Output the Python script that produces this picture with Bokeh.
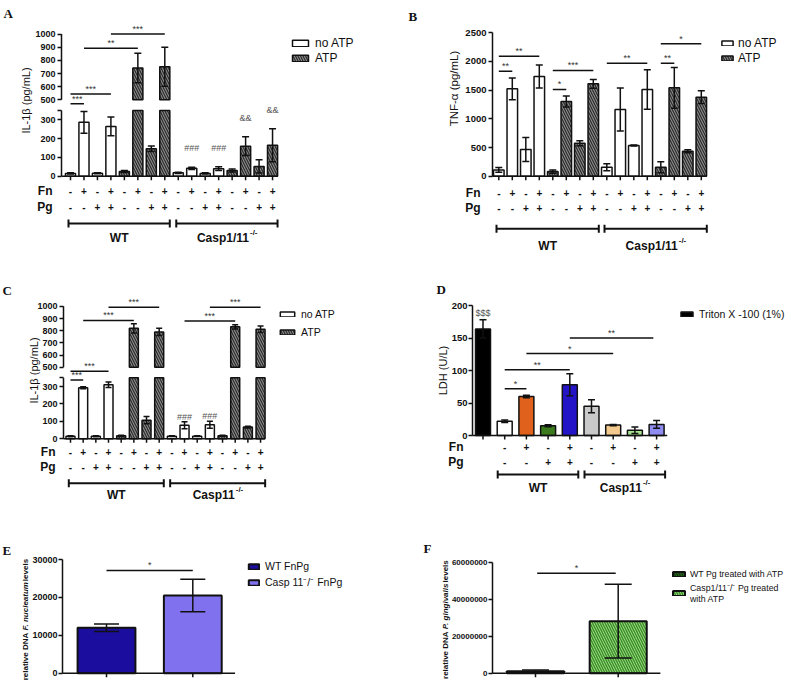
import numpy as np
from bokeh.plotting import figure
from bokeh.models import Range1d, FixedTicker, Legend, LegendItem, ColumnDataSource
from bokeh.layouts import row, column
from bokeh.embed import file_html
from bokeh.resources import INLINE
from bokeh.core.properties import value

FONT = "Liberation Sans"
SERIF = "Liberation Serif"
INK = "#111111"

# ------------------------------------------------------------------ DATA
fn_signs = ["-", "+", "-", "+"] * 4
pg_signs = ["-", "-", "+", "+"] * 4
atp_flag = [0, 0, 0, 0, 1, 1, 1, 1, 0, 0, 0, 0, 1, 1, 1, 1]
atp_legend = ["no ATP", "ATP"]

# Panel A  IL-1b, WT vs Casp1/11-/-
a_mean = [15, 287, 16, 265, 25, 742, 146, 752, 18, 42, 15, 40, 30, 160, 52, 165]
a_sem = [3, 58, 3, 50, 5, 112, 15, 148, 3, 6, 3, 10, 8, 50, 35, 88]
a_sig = [(0, 1, 445, "***"), (0, 3, 545, "***"), (1, 5, 892, "**"), (3, 7, 1000, "***")]
a_marks = [(9, "###"), (11, "###"), (13, "&&"), (15, "&&")]
a_groups = [("WT", "", 0, 7), ("Casp1/11", "-/-", 8, 15)]
a_ticks = [0, 100, 200, 300, 350, 500, 600, 700, 800, 900, 1000]
a_tick_labels = ["0", "100", "200", "300", "", "500", "600", "700", "800", "900", "1000"]

# Panel B  TNF-a
b_mean = [110, 1523, 465, 1738, 80, 1302, 575, 1610, 157, 1163, 535, 1511, 157, 1540, 436, 1378]
b_sem = [40, 190, 210, 200, 30, 95, 45, 75, 60, 375, 10, 345, 95, 355, 25, 110]
b_sig = [(0, 1, 1831, "**"), (0, 3, 2093, "**"), (4, 5, 1512, "*"), (4, 7, 1843, "***"),
         (8, 11, 1971, "**"), (12, 13, 1971, "**"), (12, 15, 2308, "*")]
b_groups = [("WT", "", 0, 7), ("Casp1/11", "-/-", 8, 15)]
b_ticks = [0, 500, 1000, 1500, 2000, 2500]

# Panel C  IL-1b, WT vs Casp11-/-
c_mean = [15, 293, 15, 310, 17, 820, 107, 790, 15, 78, 15, 81, 18, 832, 67, 812]
c_sem = [3, 6, 3, 16, 4, 38, 21, 30, 2, 20, 2, 20, 3, 17, 5, 27]
c_sig = [(0, 1, 338, "***"), (0, 3, 443, "***"), (1, 5, 884, "***"), (3, 7, 993, "***"),
         (9, 13, 880, "***"), (11, 15, 993, "***")]
c_marks = [(9, "###"), (11, "###")]
c_groups = [("WT", "", 0, 7), ("Casp11", "-/-", 8, 15)]

# Panel D  LDH
d_fn = ["", "-", "+", "-", "+", "-", "+", "-", "+"]
d_pg = ["", "-", "-", "+", "+", "-", "-", "+", "+"]
d_mean = [164, 22, 60, 15, 78, 45, 16, 8, 17]
d_sem = [14, 2, 2, 1.5, 17, 10, 1, 5, 6]
d_colors = ["#000000", "#ffffff", "#e0611c", "#3b7a1d", "#2414c8",
            "#c9c9c9", "#f3c98d", "#a9e591", "#8f8cf2"]
d_sig = [(1, 2, 72, "*"), (1, 4, 101, "**"), (2, 6, 126, "*"), (4, 7.85, 150, "**")]
d_marks = [(0, "$$$")]
d_groups = [("WT", "", 1, 4), ("Casp11", "-/-", 5, 8)]
d_legend = "Triton X -100 (1%)"
d_ticks = [0, 50, 100, 150, 200]

# Panel E  F. nucleatum DNA
e_names = ["WT FnPg", "Casp 11\u207b/\u207b FnPg"]
e_mean = [12000, 20500]
e_sem = [1000, 4300]
e_colors = ["#1b0d9e", "#8072ef"]
e_sig = [(0, 1, 27100, "*")]
e_ticks = [0, 10000, 20000, 30000]
e_ylabel = [("relative DNA ", False), ("F. nucleatum", True), (" levels", False)]

# Panel F  P. gingivalis DNA
f_names = ["WT Pg treated with ATP", "Casp1/11\u207b/\u207b Pg treated\nwith ATP"]
f_mean = [1000000, 28300000]
f_sem = [800000, 20000000]
f_colors = ["#2f6d20", "#a6e48b"]
f_hatch = ["#123a0a", "#3d8f2b"]
f_sig = [(0.02, 0.97, 54300000, "*")]
f_ticks = [0, 20000000, 40000000, 60000000]
f_ylabel = [("relative DNA ", False), ("P. gingivalis", True), (" levels", False)]

# ------------------------------------------------------------------ HELPERS
AW = {"C": .722, "a": .556, "s": .556, "p": .611, "1": .556, "/": .278, "-": .333,
      "W": .944, "T": .611, "r": .389, "e": .556, "l": .278, "t": .333, "i": .278,
      "v": .556, " ": .278, "D": .722, "N": .722, "A": .722, "F": .611, ".": .278,
      "n": .611, "u": .611, "c": .556, "m": .889, "P": .667, "g": .611}


def tw(s):
    return sum(AW.get(ch, .556) for ch in s)


def make_break(lo, hi, gap, k):
    def f(v):
        v = np.asarray(v, dtype=float)
        return np.where(v <= lo, v, np.where(v < hi, lo + (v - lo) / (hi - lo) * gap,
                                             lo + gap + (v - hi) * k))
    return f


def ident(v):
    return np.asarray(v, dtype=float)


def new_fig(fig, axis_abs, zero, py, x0, dx):
    fx, fy, fw, fh = fig
    xs, xe = (fx - x0) / dx, (fx + fw - x0) / dx
    ys, ye = -(fy + fh - zero) / py, (zero - fy) / py
    p = figure(width=fw, height=fh, x_range=Range1d(xs, xe), y_range=Range1d(ys, ye),
               x_axis_location=None, y_axis_location="left", toolbar_location=None,
               output_backend="svg", min_border=0, min_border_left=0, min_border_right=0,
               min_border_top=0, min_border_bottom=0, outline_line_color=None,
               border_fill_color="white", background_fill_color="white", title=None)
    p.grid.visible = False
    xa = (axis_abs - x0) / dx
    p.yaxis[0].fixed_location = xa
    g = dict(fig=fig, zero=zero, py=py, x0=x0, dx=dx, xa=xa,
             X=lambda ax: (ax - x0) / dx, Y=lambda ay: (zero - ay) / py)
    return p, g


def txt(p, x, y, s, fs, bold=False, align="center", baseline="middle", color=INK,
        font=FONT, angle=0.0, x_offset=0.0, y_offset=0.0, italic=False):
    style = "bold" if bold else "normal"
    if italic:
        style = "bold italic" if bold else "italic"
    p.text(x=list(np.atleast_1d(x)), y=list(np.atleast_1d(y)), text=list(np.atleast_1d(s)),
           text_align=align, text_baseline=baseline, text_font=value(font),
           text_font_style=style, text_font_size=fs, text_color=color, angle=angle,
           x_offset=x_offset, y_offset=y_offset)


def style_y(p, ticks, labels, bounds, tick_fs, show_line=True, tick_standoff=2, tick_out=4):
    ax = p.yaxis[0]
    ax.ticker = FixedTicker(ticks=list(ticks))
    ax.major_label_overrides = {k: v for k, v in zip(ticks, labels)}
    ax.bounds = bounds
    ax.major_label_text_font = FONT
    ax.major_label_text_font_style = "bold"
    ax.major_label_text_font_size = tick_fs
    ax.major_label_text_color = INK
    ax.major_label_standoff = tick_standoff
    ax.major_tick_out = tick_out
    ax.major_tick_in = 0
    ax.minor_tick_out = 0
    ax.minor_tick_in = 0
    ax.major_tick_line_width = 1.5
    ax.major_tick_line_color = INK
    ax.axis_line_width = 1.5
    ax.axis_line_color = INK if show_line else None


def add_ylabel(p, g, text, cx, cy, fs, bold=False):
    txt(p, g["X"](cx), g["Y"](cy), text, fs, bold=bold, angle=np.pi / 2)


def add_ylabel_parts(p, g, parts, cx, cy, fs_px, bold=True):
    widths = [tw(t) * fs_px for t, _ in parts]
    total = sum(widths)
    cum = 0.0
    for (t, it), w in zip(parts, widths):
        txt(p, g["X"](cx), g["Y"](cy), t, f"{fs_px}px", bold=bold, italic=it,
            align="left", angle=np.pi / 2, y_offset=total / 2 - cum)
        cum += w


def add_errors(p, g, idx, m, s, tf, cap_px, lw=1.5):
    lo = tf(m - s)
    hi = tf(m + s)
    cw = cap_px / 2 / g["dx"]
    p.segment(x0=idx, y0=lo, x1=idx, y1=hi, line_color=INK, line_width=lw)
    p.segment(x0=np.concatenate([idx - cw, idx - cw]), y0=np.concatenate([hi, lo]),
              x1=np.concatenate([idx + cw, idx + cw]), y1=np.concatenate([hi, lo]),
              line_color=INK, line_width=lw)


def add_sig(p, sig, tf, fs="9px"):
    x0s = [s[0] for s in sig]
    x1s = [s[1] for s in sig]
    ys = tf([s[2] for s in sig])
    p.segment(x0=x0s, y0=ys, x1=x1s, y1=ys, line_color=INK, line_width=1.5)
    txt(p, [(a + b) / 2 for a, b in zip(x0s, x1s)], ys, [s[3] for s in sig], fs,
        baseline="bottom", color="#333333")


def add_marks(p, marks, m, s, tf, off_px, fs="9px"):
    ii = [k for k, _ in marks]
    ys = tf(np.array(m)[ii] + np.array(s)[ii])
    txt(p, ii, ys, [t for _, t in marks], fs, baseline="bottom", color="#555555",
        y_offset=-off_px)


def add_xaxis(p, g, idx, axis_end):
    p.segment(x0=[g["xa"]], y0=[0], x1=[axis_end], y1=[0], line_color=INK, line_width=1.5)
    tick = 4 / g["py"]
    n = len(idx)
    p.segment(x0=idx, y0=np.zeros(n), x1=idx, y1=np.full(n, -tick), line_color=INK,
              line_width=1.5)


def add_rows(p, g, idx, fn, pg, rows_px, hdr_right):
    py = g["py"]
    yf, yp = -rows_px[0] / py, -rows_px[1] / py
    for signs, yy, name in ((fn, yf, "Fn"), (pg, yp, "Pg")):
        txt(p, idx, [yy] * len(idx), signs, "10px", bold=True)
        txt(p, g["X"](hdr_right), yy, name, "12px", bold=True, align="right")


def add_groups(p, g, groups, rows_px, pad, fs=12):
    py, dx = g["py"], g["dx"]
    yb, yl = -rows_px[2] / py, -rows_px[3] / py
    capy = 4 / py
    for main, sup, i0, i1 in groups:
        xa, xb = i0 - pad[0] / dx, i1 + pad[1] / dx
        p.segment(x0=[xa], y0=[yb], x1=[xb], y1=[yb], line_color=INK, line_width=2)
        p.segment(x0=[xa, xb], y0=[yb - capy] * 2, x1=[xa, xb], y1=[yb + capy] * 2,
                  line_color=INK, line_width=2)
        cx = (xa + xb) / 2
        sfs = fs * 0.65
        mw = tw(main) * fs
        sw = tw(sup) * sfs if sup else 0
        left = -(mw + sw) / 2
        txt(p, cx, yl, main, f"{fs}px", bold=True, align="left", x_offset=left)
        if sup:
            txt(p, cx, yl, sup, f"{sfs:.1f}px", bold=True, align="left",
                x_offset=left + mw + 0.5, y_offset=-fs * 0.42)


def add_letter(p, g, t, ax, ay):
    txt(p, g["X"](ax), g["Y"](ay), t, "13px", bold=True, align="left", baseline="top",
        font=SERIF)


def add_legend(p, g, items, box_left, top, gw, gh, fs, row_h, spacing=1, standoff=5,
               nrows=None):
    fx, fy, fw, fh = g["fig"]
    n = nrows if nrows else len(items)
    height = n * row_h + (len(items) - 1) * spacing
    leg = Legend(items=items, location=(box_left - fx, fy + fh - (top + height)),
                 glyph_width=gw, glyph_height=gh, label_height=row_h, label_width=10,
                 label_standoff=standoff, spacing=spacing, padding=0, margin=0,
                 border_line_color=None, background_fill_alpha=0, label_text_font=FONT,
                 label_text_font_size=f"{fs}px", label_text_color=INK)
    p.add_layout(leg)


WHITE_KW = dict(fill_color="white", line_color=INK, line_width=1.5)
ATP_KW = dict(fill_color="#8c8c8c", line_color=INK, line_width=1.5,
              hatch_pattern="left_diagonal_line", hatch_color="#2a2a2a",
              hatch_weight=1.2, hatch_scale=5)


def panel_atp(geo, mean, sem, tf, brk, ticks, tick_labels, top_val, ylab, sig, marks,
              mark_off, groups, rows_px, pad, axis_end, hdr_right, leg, letter,
              bw, cap_px, tick_fs):
    p, g = new_fig(*geo)
    m = np.array(mean, float)
    s = np.array(sem, float)
    idx = np.arange(len(m), dtype=float)
    atp = np.array(atp_flag) == 1
    lo_cap = brk[0] if brk else np.inf
    lower_top = tf(np.minimum(m, lo_cap))
    rends = []
    for flag, kw in ((False, WHITE_KW), (True, ATP_KW)):
        sel = atp == flag
        r = p.vbar(x=idx[sel], top=lower_top[sel], bottom=0, width=bw, **kw)
        rends.append(r)
        if brk:
            up = sel & (m > brk[1])
            if up.any():
                p.vbar(x=idx[up], top=tf(m[up]), bottom=float(tf(brk[1])), width=bw, **kw)
    add_errors(p, g, idx, m, s, tf, cap_px)
    add_sig(p, sig, tf)
    if marks:
        add_marks(p, marks, m, s, tf, mark_off)
    add_xaxis(p, g, idx, axis_end)
    tks = [int(round(float(tf(v)))) for v in ticks]
    style_y(p, tks, tick_labels, (0, tks[-1]), tick_fs, show_line=not brk)
    if brk:
        xl = g["xa"]
        p.segment(x0=[xl, xl], y0=[0, float(tf(brk[1]))], x1=[xl, xl],
                  y1=[float(tf(brk[0])), float(tf(top_val))], line_color=INK, line_width=1.5)
    add_rows(p, g, idx, fn_signs, pg_signs, rows_px, hdr_right)
    add_groups(p, g, groups, rows_px, pad)
    add_ylabel(p, g, *ylab)
    items = [LegendItem(label=atp_legend[0], renderers=[rends[0]]),
             LegendItem(label=atp_legend[1], renderers=[rends[1]])]
    add_legend(p, g, items, *leg)
    add_letter(p, g, *letter)
    return p


# ------------------------------------------------------------------ PANELS
brkA = make_break(350, 500, 57, 0.7)
brkC = make_break(350, 500, 60, 0.7)

pA = panel_atp(((0, 0, 398, 278), 61, 175.7, 0.1877, 70, 13.47),
               a_mean, a_sem, brkA, (350, 500), a_ticks, a_tick_labels, 1000,
               ("IL-1\u03b2 (pg/mL)", 25, 100, "11px"), a_sig, a_marks, 14, a_groups,
               (14.3, 30.3, 47.3, 61.3), (2, 5), 15.4, 52,
               (290, 36, 20, 8, 12, 14, 1, 5), ("A", 3, 5), 0.75, 7, "9px")

pB = panel_atp(((398, 0, 393, 278), 492, 175.7, 0.05736, 498.3, 13.5),
               b_mean, b_sem, ident, None, b_ticks, [str(v) for v in b_ticks], 2500,
               ("TNF-\u03b1 (pg/mL)", 453, 88, "11.5px"), b_sig, None, 0, b_groups,
               (17, 31.6, 52.6, 69.3), (2.3, 5.5), 15.31, 480,
               (720, 36, 14, 6, 12, 14, 1, 4), ("B", 408, 8), 0.78, 7, "9.5px")

pC = panel_atp(((0, 278, 398, 260), 63, 438.3, 0.1743, 70, 12.67),
               c_mean, c_sem, brkC, (350, 500), a_ticks, a_tick_labels, 1000,
               ("IL-1\u03b2 (pg/mL)", 33, 370, "11px"), c_sig, c_marks, 0, c_groups,
               (13.4, 28.4, 44.4, 56), (1.7, 4.6), 15.34, 55,
               (278, 307, 18, 6, 10.5, 14, 4, 5), ("C", 2, 282), 0.71, 6, "9px")

# Panel D
pD, gD = new_fig((398, 278, 393, 260), 472, 435, 0.65, 482.5, 21.7)
dm = np.array(d_mean, float)
ds = np.array(d_sem, float)
didx = np.arange(len(dm), dtype=float)
srcD = ColumnDataSource(dict(x=didx[1:], top=dm[1:], color=d_colors[1:]))
rT = pD.vbar(x=didx[:1], top=dm[:1], bottom=0, width=0.69, fill_color=d_colors[0],
             line_color=INK, line_width=1.5)
pD.vbar(x="x", top="top", bottom=0, width=0.69, fill_color="color", line_color=INK,
        line_width=1.5, source=srcD)
add_errors(pD, gD, didx, dm, ds, ident, 7)
add_sig(pD, d_sig, ident)
add_marks(pD, d_marks, dm, ds, ident, 2)
add_xaxis(pD, gD, didx, 8.49)
style_y(pD, d_ticks, [str(v) for v in d_ticks], (0, 200), "9.5px", tick_standoff=1)
add_rows(pD, gD, didx, d_fn, d_pg, (11.7, 26.7, 39, 52.3), 463)
add_groups(pD, gD, d_groups, (11.7, 26.7, 39, 52.3), (7, 8.5))
add_ylabel(pD, gD, "LDH (U/L)", 442, 370, "11px")
add_legend(pD, gD, [LegendItem(label=d_legend, renderers=[rT])], 679, 307, 15, 6, 10.5, 14)
add_letter(pD, gD, "D", 436, 281)

# Panel E
pE, gE = new_fig((0, 538, 398, 144), 62, 672.7, (672.7 - 559) / 30000, 106, 86.3)
em = np.array(e_mean, float)
es = np.array(e_sem, float)
eidx = np.arange(2, dtype=float)
srcE = ColumnDataSource(dict(x=eidx, top=em, color=e_colors))
rE = pE.vbar(x="x", top="top", bottom=0, width=0.67, fill_color="color", line_color=INK,
             line_width=2, source=srcE)
add_errors(pE, gE, eidx, em, es, ident, 25)
add_sig(pE, e_sig, ident)
add_xaxis(pE, gE, eidx, 1.49)
style_y(pE, e_ticks, [str(v) for v in e_ticks], (0, 30000), "9px", tick_standoff=1)
add_ylabel_parts(pE, gE, e_ylabel, 25, 618, 8)
add_legend(pE, gE, [LegendItem(label=e_names[0], renderers=[rE], index=0),
                    LegendItem(label=e_names[1], renderers=[rE], index=1)],
           247, 559, 13, 7, 10.5, 14, 2, 5)
add_letter(pE, gE, "E", 2, 542)

# Panel F
pF, gF = new_fig((398, 538, 393, 144), 492, 672.7, (672.7 - 562.3) / 60000000, 535, 82.7)
fm = np.array(f_mean, float)
fs_ = np.array(f_sem, float)
fidx = np.arange(2, dtype=float)
srcF = ColumnDataSource(dict(x=fidx, top=fm, color=f_colors, hatch=f_hatch))
rF = pF.vbar(x="x", top="top", bottom=0, width=0.69, fill_color="color", line_color=INK,
             line_width=2, hatch_pattern="left_diagonal_line", hatch_color="hatch",
             hatch_weight=1.5, hatch_scale=5, source=srcF)
add_errors(pF, gF, fidx, fm, fs_, ident, 27)
add_sig(pF, f_sig, ident)
add_xaxis(pF, gF, fidx, 1.51)
style_y(pF, f_ticks, [str(v) for v in f_ticks], (0, 60000000), "8px", tick_standoff=1)
add_ylabel_parts(pF, gF, f_ylabel, 445, 618, 8)
add_legend(pF, gF, [LegendItem(label=f_names[0], renderers=[rF], index=0),
                    LegendItem(label=f_names[1], renderers=[rF], index=1)],
           671, 563, 15, 6, 8.8, 13, 2, 4, nrows=3)
add_letter(pF, gF, "F", 423, 540)

layout = column(row(pA, pB), row(pC, pD), row(pE, pF))
open("out.html", "w").write(file_html(layout, INLINE))
